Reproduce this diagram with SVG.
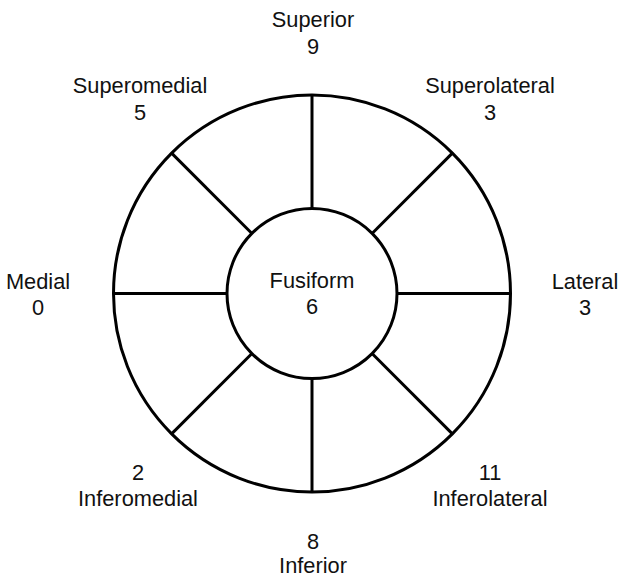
<svg xmlns="http://www.w3.org/2000/svg" width="620" height="579" viewBox="0 0 620 579">
<style>
.c{fill:none;stroke:#000;stroke-width:3}
.l{stroke:#000;stroke-width:3}
text{font-family:"Liberation Sans",Arial,sans-serif;font-size:21.8px;fill:#111;text-anchor:middle}
</style>
<rect width="620" height="579" fill="#fff"/>
<g id="ring">
<circle class="c" cx="312" cy="293.5" r="198.5"/>
</g>
<g id="connectors">
<line class="l" x1="312" y1="95" x2="312" y2="208.5"/>
<line class="l" x1="312" y1="378.5" x2="312" y2="492"/>
<line class="l" x1="113.5" y1="293.5" x2="227.5" y2="293.5"/>
<line class="l" x1="396.5" y1="293.5" x2="510.5" y2="293.5"/>
<line class="l" x1="171.6" y1="153.1" x2="252.2" y2="233.7"/>
<line class="l" x1="452.4" y1="153.1" x2="371.8" y2="233.7"/>
<line class="l" x1="171.6" y1="433.9" x2="252.2" y2="353.3"/>
<line class="l" x1="452.4" y1="433.9" x2="371.8" y2="353.3"/>
</g>
<g id="fusiform">
<circle class="c" cx="312" cy="293.5" r="85"/>
<text x="312" y="288">Fusiform</text>
<text x="312" y="314">6</text>
</g>
<g id="superior"><text x="313" y="27">Superior</text><text x="313" y="54">9</text></g>
<g id="superomedial"><text x="140" y="93">Superomedial</text><text x="140" y="120">5</text></g>
<g id="superolateral"><text x="490" y="93">Superolateral</text><text x="490" y="120">3</text></g>
<g id="medial"><text x="38" y="289">Medial</text><text x="38" y="315">0</text></g>
<g id="lateral"><text x="585" y="289">Lateral</text><text x="585" y="315">3</text></g>
<g id="inferomedial"><text x="138" y="480">2</text><text x="138" y="506">Inferomedial</text></g>
<g id="inferolateral"><text x="490" y="480">11</text><text x="490" y="506">Inferolateral</text></g>
<g id="inferior"><text x="313" y="549">8</text><text x="313" y="573">Inferior</text></g>
</svg>
